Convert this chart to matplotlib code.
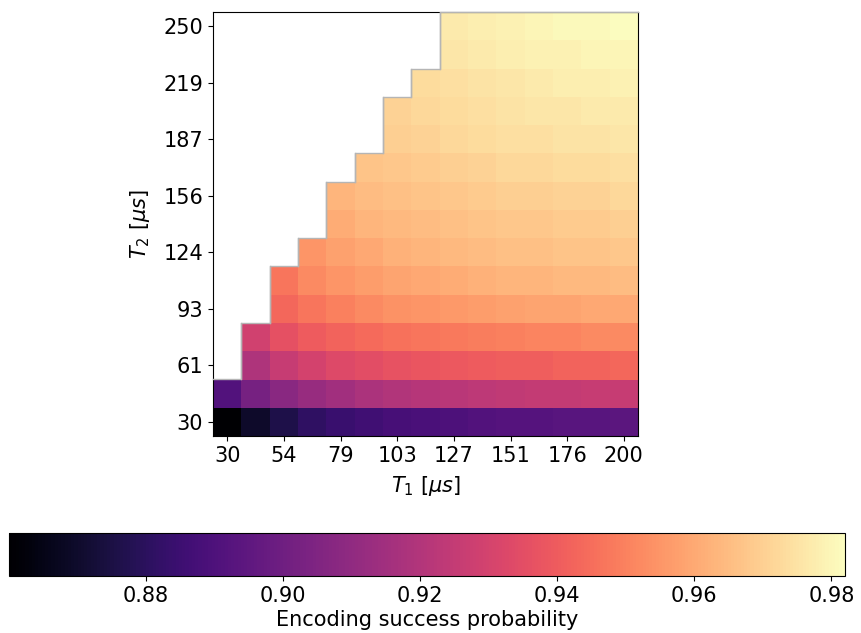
import numpy as np
import matplotlib
matplotlib.use("Agg")
import matplotlib.pyplot as plt

# ----------------------------
# Grid of coherence times (us)
# ----------------------------

t1_values = [30, 42.1, 54.3, 66.4, 78.6, 90.7, 102.9, 115.0,
             127.1, 139.3, 151.4, 163.6, 175.7, 187.9, 200]
t2_values = [30, 45.7, 61.4, 77.1, 92.9, 108.6, 124.3, 140.0,
             155.7, 171.4, 187.1, 202.9, 218.6, 234.3, 250]

nan = np.nan

# encoding success probability, one row per T2 (bottom to top),
# NaN where T2 > 2*T1 is unphysical
success = [
    [0.860, 0.870, 0.876, 0.881, 0.884, 0.886, 0.888, 0.889, 0.890, 0.891, 0.892, 0.892, 0.893, 0.893, 0.894],
    [0.891, 0.902, 0.908, 0.912, 0.915, 0.918, 0.920, 0.921, 0.922, 0.923, 0.924, 0.925, 0.925, 0.926, 0.926],
    [nan, 0.919, 0.926, 0.930, 0.933, 0.935, 0.937, 0.938, 0.939, 0.940, 0.941, 0.941, 0.942, 0.942, 0.943],
    [nan, 0.929, 0.936, 0.940, 0.942, 0.944, 0.946, 0.947, 0.948, 0.949, 0.950, 0.951, 0.951, 0.952, 0.952],
    [nan, nan, 0.943, 0.947, 0.950, 0.952, 0.954, 0.955, 0.956, 0.957, 0.958, 0.959, 0.959, 0.960, 0.960],
    [nan, nan, 0.947, 0.952, 0.955, 0.957, 0.959, 0.960, 0.961, 0.962, 0.963, 0.963, 0.964, 0.964, 0.965],
    [nan, nan, nan, 0.955, 0.958, 0.960, 0.962, 0.963, 0.964, 0.965, 0.966, 0.966, 0.967, 0.967, 0.968],
    [nan, nan, nan, nan, 0.961, 0.963, 0.964, 0.965, 0.966, 0.967, 0.968, 0.968, 0.969, 0.969, 0.970],
    [nan, nan, nan, nan, 0.963, 0.965, 0.966, 0.967, 0.968, 0.969, 0.970, 0.970, 0.971, 0.971, 0.972],
    [nan, nan, nan, nan, nan, 0.967, 0.968, 0.969, 0.970, 0.971, 0.972, 0.972, 0.973, 0.973, 0.974],
    [nan, nan, nan, nan, nan, nan, 0.970, 0.971, 0.972, 0.973, 0.974, 0.974, 0.975, 0.975, 0.976],
    [nan, nan, nan, nan, nan, nan, 0.971, 0.972, 0.973, 0.974, 0.975, 0.976, 0.976, 0.977, 0.977],
    [nan, nan, nan, nan, nan, nan, nan, 0.973, 0.974, 0.975, 0.976, 0.977, 0.978, 0.978, 0.979],
    [nan, nan, nan, nan, nan, nan, nan, nan, 0.976, 0.977, 0.978, 0.979, 0.979, 0.980, 0.980],
    [nan, nan, nan, nan, nan, nan, nan, nan, 0.977, 0.978, 0.979, 0.980, 0.981, 0.981, 0.982],
]

cbar_ticks = [0.88, 0.90, 0.92, 0.94, 0.96, 0.98]

# ----------------------------
# Figure
# ----------------------------

plt.rcParams['font.size'] = 15

grid = np.ma.masked_invalid(np.array(success))

fig = plt.figure(figsize=(8.61, 6.33), dpi=100)
ax = fig.add_axes([0.2474, 0.3112, 0.4936, 0.6698])

im = ax.imshow(grid, origin='lower', cmap='magma', aspect='auto',
               vmin=np.nanmin(success), vmax=np.nanmax(success),
               interpolation='nearest')

# outline of the allowed region
valid = ~np.isnan(np.array(success))
top = valid.sum(axis=0) - 0.5
xs, ys = [], []
for i, h in enumerate(top):
    xs += [i - 0.5, i + 0.5]
    ys += [h, h]
ax.plot(xs, ys, color='#b5b5b5', lw=1.0, clip_on=False, zorder=3)
for i in range(len(top) - 1):
    if top[i + 1] != top[i]:
        ax.plot([i + 0.5, i + 0.5], [top[i], top[i + 1]],
                color='#b5b5b5', lw=1.0, zorder=3)
ax.set_xlim(-0.5, len(t1_values) - 0.5)
ax.set_ylim(-0.5, len(t2_values) - 0.5)

xt = list(range(0, len(t1_values), 2))
yt = list(range(0, len(t2_values), 2))
ax.set_xticks(xt)
ax.set_xticklabels([f"{t1_values[i]:.0f}" for i in xt])
ax.set_yticks(yt)
ax.set_yticklabels([f"{t2_values[i]:.0f}" for i in yt])

ax.set_xlabel(r"$T_1$ [$\mu s$]", labelpad=6)
ax.set_ylabel(r"$T_2$ [$\mu s$]", labelpad=8)

# ----------------------------
# Colorbar
# ----------------------------

cax = fig.add_axes([0.0105, 0.090, 0.971, 0.068])
cbar = fig.colorbar(im, cax=cax, orientation='horizontal')
cbar.set_ticks(cbar_ticks)
cbar.set_ticklabels([f"{t:.2f}" for t in cbar_ticks])
cbar.set_label("Encoding success probability", labelpad=3)

fig.savefig("out.png", dpi=100)
